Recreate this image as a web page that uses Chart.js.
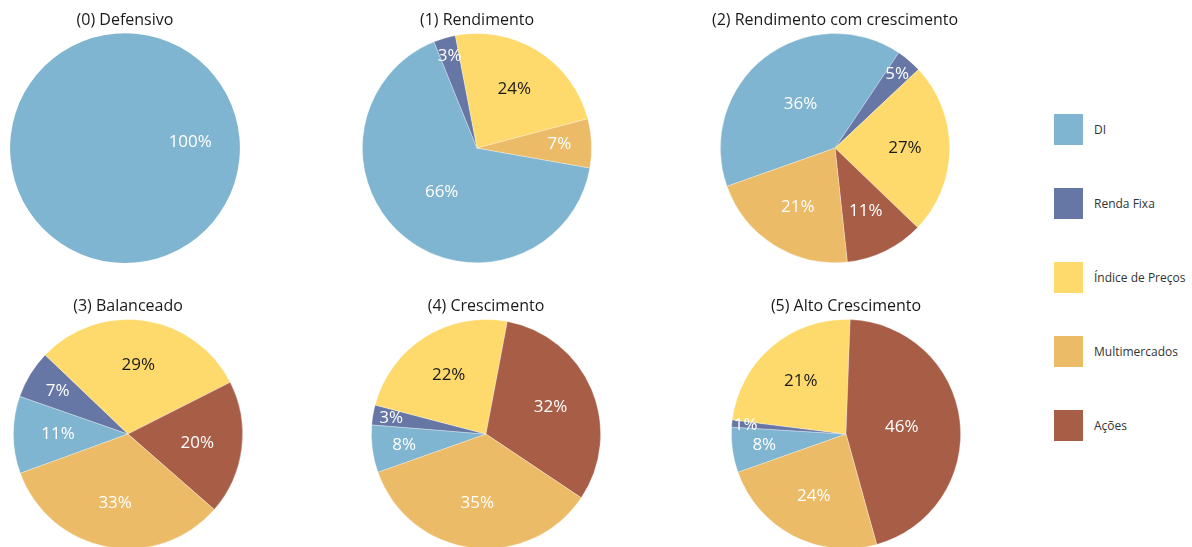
<!DOCTYPE html>
<html>
<head>
<meta charset="utf-8">
<script src="https://cdn.jsdelivr.net/npm/chart.js@4.4.1/dist/chart.umd.min.js"></script>
<style>
  body { margin: 0; width: 1192px; height: 547px; overflow: hidden; background: #fff; font-family: "Open Sans", sans-serif; }
  .pie { position: absolute; width: 250px; height: 263px; }
  #legend { position: absolute; left: 1054px; top: 114px; }
  .legend-row { display: flex; align-items: center; height: 31px; margin-bottom: 43px; }
  .legend-box { width: 29px; height: 31px; margin-right: 11px; }
  .legend-text { font-size: 12px; color: #333; }
</style>
</head>
<body>
<div id="charts"></div>
<div id="legend"></div>
<script>
// categories, in legend order
const categories = ["DI", "Renda Fixa", "Índice de Preços", "Multimercados", "Ações"];
const colors = ["#7fb5d0", "#6677a5", "#fed96b", "#ecbb67", "#a85d47"];

// slice shares (%), legend order
const defensivo = [100, 0, 0, 0, 0];
const rendimento = [66.1, 3.1, 23.9, 6.9, 0];
const rendCrescimento = [39.8, 3.6, 24.2, 21.3, 11.1];
const balanceado = [10.9, 6.8, 30.4, 33.0, 18.9];
const crescimento = [6.7, 2.8, 23.9, 35.2, 31.4];
const altoCrescimento = [6.4, 1.0, 23.6, 23.9, 45.1];

// percentage labels as printed on each pie
const defensivoLbl = ["100%", "", "", "", ""];
const rendimentoLbl = ["66%", "3%", "24%", "7%", ""];
const rendCrescimentoLbl = ["36%", "5%", "27%", "21%", "11%"];
const balanceadoLbl = ["11%", "7%", "29%", "33%", "20%"];
const crescimentoLbl = ["8%", "3%", "22%", "35%", "32%"];
const altoCrescimentoLbl = ["8%", "1%", "21%", "24%", "46%"];

// slices go clockwise: DI, Renda Fixa, Índice, Ações, Multimercados
const sliceOrder = [0, 1, 2, 4, 3];

const pies = [
  { title: "(0) Defensivo", data: defensivo, lbl: defensivoLbl, left: 0, top: 0, rotation: 265 },
  { title: "(1) Rendimento", data: rendimento, lbl: rendimentoLbl, left: 352, top: 0, rotation: 100 },
  { title: "(2) Rendimento com crescimento", data: rendCrescimento, lbl: rendCrescimentoLbl, left: 710, top: 0, rotation: 250.5 },
  { title: "(3) Balanceado", data: balanceado, lbl: balanceadoLbl, left: 3, top: 286, rotation: 250 },
  { title: "(4) Crescimento", data: crescimento, lbl: crescimentoLbl, left: 361, top: 286, rotation: 250.5 },
  { title: "(5) Alto Crescimento", data: altoCrescimento, lbl: altoCrescimentoLbl, left: 721, top: 286, rotation: 250.5 },
];

// small slices get their label pushed toward the rim
function labelRadius(p) {
  if (p < 2) return 0.88;
  if (p < 5) return 0.84;
  if (p < 8) return 0.72;
  if (p < 38) return 0.61;
  if (p <= 70) return 0.49;
  return 0.57;
}

const pctLabels = {
  id: "pctLabels",
  afterDatasetsDraw(chart) {
    const ctx = chart.ctx;
    const ds = chart.data.datasets[0];
    const total = ds.data.reduce((a, b) => a + b, 0);
    chart.getDatasetMeta(0).data.forEach((arc, i) => {
      const txt = ds.pctText[i];
      if (!txt || !ds.data[i]) return;
      const { x, y, startAngle, endAngle, outerRadius } = arc.getProps(
        ["x", "y", "startAngle", "endAngle", "outerRadius"], true);
      const mid = (startAngle + endAngle) / 2;
      const r = outerRadius * labelRadius((ds.data[i] / total) * 100);
      ctx.save();
      ctx.font = '17px "Open Sans", sans-serif';
      ctx.textAlign = "center";
      ctx.textBaseline = "middle";
      ctx.fillStyle = ds.textColors[i];
      ctx.fillText(txt, x + Math.cos(mid) * r, y + Math.sin(mid) * r);
      ctx.restore();
    });
  },
};

const holder = document.getElementById("charts");
pies.forEach((pie, n) => {
  const box = document.createElement("div");
  box.className = "pie";
  box.style.left = pie.left + "px";
  box.style.top = pie.top + "px";
  const canvas = document.createElement("canvas");
  box.appendChild(canvas);
  holder.appendChild(box);

  const full = pie.data.filter((v) => v > 0).length === 1;

  new Chart(canvas, {
    type: "pie",
    data: {
      labels: sliceOrder.map((k) => categories[k]),
      datasets: [
        {
          data: sliceOrder.map((k) => pie.data[k]),
          pctText: sliceOrder.map((k) => pie.lbl[k]),
          backgroundColor: sliceOrder.map((k) => colors[k]),
          textColors: sliceOrder.map((k) => (k === 2 ? "#1a1a1a" : "#ffffff")),
          borderColor: "rgba(255,255,255,0.5)",
          borderWidth: full ? 0 : 0.6,
        },
      ],
    },
    options: {
      responsive: true,
      maintainAspectRatio: false,
      animation: false,
      rotation: pie.rotation,
      layout: { padding: 0 },
      plugins: {
        legend: { display: false },
        tooltip: { enabled: false },
        title: {
          display: true,
          text: pie.title,
          color: "#1a1a1a",
          font: { family: '"Open Sans", sans-serif', size: 16, weight: "normal" },
          padding: { top: 11, bottom: 3 },
        },
      },
    },
    plugins: [pctLabels],
  });
});

// legend
const legend = document.getElementById("legend");
categories.forEach((name, i) => {
  const row = document.createElement("div");
  row.className = "legend-row";
  row.innerHTML = `<div class="legend-box" style="background:${colors[i]}"></div>
    <span class="legend-text">${name}</span>`;
  legend.appendChild(row);
});
</script>
</body>
</html>
